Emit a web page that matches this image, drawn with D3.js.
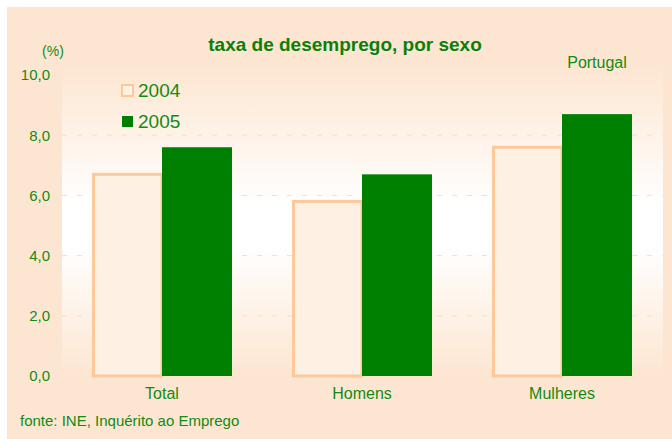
<!DOCTYPE html>
<html>
<head>
<meta charset="utf-8">
<script src="https://cdn.jsdelivr.net/npm/d3@7"></script>
<style>
  body { margin: 0; background: #fff; }
  text { font-family: "Liberation Sans", Arial, sans-serif; fill: #138a13; }
</style>
</head>
<body>
<svg id="chart"></svg>
<script>
const width = 672;
const height = 439;
const margin = { top: 75, right: 10, bottom: 63, left: 62 };

const categories = ['Total', 'Homens', 'Mulheres'];
const series = ['2004', '2005'];
const values2004 = [6.7, 5.8, 7.6];
const values2005 = [7.6, 6.7, 8.7];
const yTicks = [0, 2, 4, 6, 8, 10];

const peach = '#fde6d1';
const green = '#008000';

const svg = d3.select('#chart')
    .attr('width', width)
    .attr('height', height);

// background panel
svg.append('rect')
    .attr('x', 7).attr('y', 7)
    .attr('width', width - 7).attr('height', height - 7)
    .attr('fill', peach);

const defs = svg.append('defs');
const grad = defs.append('linearGradient')
    .attr('id', 'plotbg')
    .attr('x1', 0).attr('y1', 0).attr('x2', 0).attr('y2', 1);
grad.append('stop').attr('offset', '0%').attr('stop-color', peach);
grad.append('stop').attr('offset', '45%').attr('stop-color', '#ffffff');
grad.append('stop').attr('offset', '58%').attr('stop-color', '#ffffff');
grad.append('stop').attr('offset', '100%').attr('stop-color', peach);

const x0 = d3.scaleBand()
    .domain(categories)
    .range([margin.left, 662])
    .paddingInner(0.3)
    .paddingOuter(0.15);

const x1 = d3.scaleBand()
    .domain(series)
    .range([0, x0.bandwidth()]);

const y = d3.scaleLinear()
    .domain([0, 10])
    .range([height - margin.bottom, margin.top]);

svg.append('rect')
    .attr('x', margin.left).attr('y', 65)
    .attr('width', 663 - margin.left).attr('height', y(0) - 65)
    .attr('fill', 'url(#plotbg)');

// gridlines
svg.append('g')
    .selectAll('line')
    .data(yTicks.filter(t => t > 0 && t < 10))
    .enter()
    .append('line')
    .attr('x1', margin.left).attr('x2', 663)
    .attr('y1', d => y(d)).attr('y2', d => y(d))
    .attr('stroke', '#fcdcc2')
    .attr('stroke-width', 1)
    .attr('stroke-dasharray', '5,10');

// y axis labels
const yAxis = d3.axisLeft(y)
    .tickValues(yTicks)
    .tickSize(0)
    .tickPadding(12)
    .tickFormat(d => d3.format('.1f')(d).replace('.', ','));

const gy = svg.append('g')
    .attr('transform', `translate(${margin.left},0)`)
    .call(yAxis);
gy.select('.domain').remove();
gy.selectAll('text').style('font-size', '15px').attr('fill', '#138a13');

// bars
const rows = categories.map((c, i) => ({ cat: c, vals: [values2004[i], values2005[i]] }));

const groups = svg.append('g')
    .selectAll('g')
    .data(rows)
    .enter()
    .append('g')
    .attr('transform', d => `translate(${x0(d.cat)},0)`);

groups.append('rect')
    .attr('x', x1('2004') + 1.5)
    .attr('y', d => y(d.vals[0]))
    .attr('width', x1.bandwidth() - 1.5)
    .attr('height', d => y(0) - y(d.vals[0]))
    .attr('fill', '#fef0e3')
    .attr('stroke', '#fdc99a')
    .attr('stroke-width', 3);

groups.append('rect')
    .attr('x', x1('2005'))
    .attr('y', d => y(d.vals[1]))
    .attr('width', x1.bandwidth())
    .attr('height', d => y(0) - y(d.vals[1]))
    .attr('fill', green);

// x axis labels
const xAxis = d3.axisBottom(x0).tickSize(0).tickPadding(12);
const gx = svg.append('g')
    .attr('transform', `translate(0,${y(0)})`)
    .call(xAxis);
gx.select('.domain').remove();
gx.selectAll('text').style('font-size', '16px').attr('fill', '#138a13');

// title and notes
svg.append('text')
    .attr('x', 345).attr('y', 51)
    .attr('text-anchor', 'middle')
    .style('font-size', '19px')
    .style('font-weight', 'bold')
    .style('fill', '#0a800a')
    .text('taxa de desemprego, por sexo');

svg.append('text')
    .attr('x', 53).attr('y', 56)
    .attr('text-anchor', 'middle')
    .style('font-size', '14px')
    .text('(%)');

svg.append('text')
    .attr('x', 597).attr('y', 68)
    .attr('text-anchor', 'middle')
    .style('font-size', '16px')
    .text('Portugal');

svg.append('text')
    .attr('x', 20).attr('y', 426)
    .style('font-size', '15px')
    .text('fonte: INE, Inquérito ao Emprego');

// legend
const legend = svg.append('g');
series.forEach((s, i) => {
    const ly = 84 + i * 31;
    legend.append('rect')
        .attr('x', 122).attr('y', ly + 1)
        .attr('width', 11).attr('height', 11)
        .attr('fill', i === 0 ? '#fef0e3' : green)
        .attr('stroke', i === 0 ? '#fdc99a' : 'none')
        .attr('stroke-width', 2);
    legend.append('text')
        .attr('x', 138).attr('y', ly + 13)
        .style('font-size', '19px')
        .text(s);
});
</script>
</body>
</html>
